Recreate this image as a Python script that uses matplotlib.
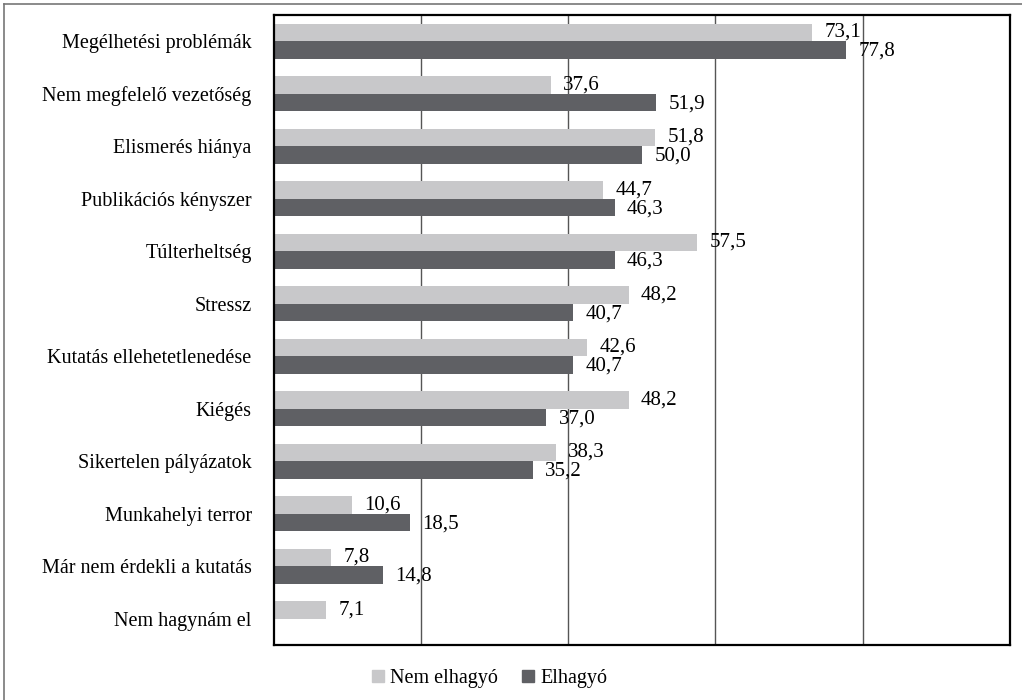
import matplotlib
matplotlib.use('Agg')
import matplotlib.pyplot as plt
import numpy as np
from matplotlib.lines import Line2D

plt.rcParams['font.family'] = ['Liberation Serif', 'DejaVu Serif']

categories = [
    'Megélhetési problémák',
    'Nem megfelelő vezetőség',
    'Elismerés hiánya',
    'Publikációs kényszer',
    'Túlterheltség',
    'Stressz',
    'Kutatás ellehetetlenedése',
    'Kiégés',
    'Sikertelen pályázatok',
    'Munkahelyi terror',
    'Már nem érdekli a kutatás',
    'Nem hagynám el',
]
nem_elhagyo = [73.1, 37.6, 51.8, 44.7, 57.5, 48.2, 42.6, 48.2, 38.3, 10.6, 7.8, 7.1]
elhagyo = [77.8, 51.9, 50.0, 46.3, 46.3, 40.7, 40.7, 37.0, 35.2, 18.5, 14.8, None]
series_names = ['Nem elhagyó', 'Elhagyó']

LIGHT = '#c8c8ca'
DARK = '#5f6064'

fig = plt.figure(figsize=(10.22, 7.0), dpi=100)
ax = fig.add_axes([0.268, 0.0786, 0.720, 0.900])

y = np.arange(len(categories))
h = 0.335

ax.barh(y - h / 2, nem_elhagyo, height=h, color=LIGHT, zorder=2)
dark_vals = [v if v is not None else 0 for v in elhagyo]
ax.barh(y + h / 2, dark_vals, height=h, color=DARK, zorder=2)


def fmt(v):
    return ('%.1f' % v).replace('.', ',')


for i, v in enumerate(nem_elhagyo):
    ax.text(v + 1.7, y[i] - h / 2, fmt(v), va='center', ha='left',
            fontsize=15, zorder=4)
for i, v in enumerate(elhagyo):
    if v is None:
        continue
    ax.text(v + 1.7, y[i] + h / 2 + 0.02, fmt(v), va='center', ha='left',
            fontsize=15, zorder=4)

ax.set_xlim(0, 100)
ax.set_ylim(len(categories) - 0.5, -0.5)
ax.set_xticks([20, 40, 60, 80])
ax.set_xticklabels([])
ax.tick_params(axis='x', length=0)
ax.grid(axis='x', color='#555555', linewidth=1.0, zorder=1)
ax.set_yticks(y)
ax.set_yticklabels(categories, fontsize=14.5)
ax.tick_params(axis='y', length=0, pad=16)
for s in ax.spines.values():
    s.set_color('black')
    s.set_linewidth(1.6)

handles = [
    Line2D([], [], marker='s', linestyle='none', markersize=9,
           markerfacecolor=LIGHT, markeredgecolor=LIGHT),
    Line2D([], [], marker='s', linestyle='none', markersize=9,
           markerfacecolor=DARK, markeredgecolor=DARK),
]
fig.legend(handles, series_names, loc='center', bbox_to_anchor=(0.478, 0.031),
           ncol=2, frameon=False, fontsize=14.5, handletextpad=0.2,
           handlelength=0.8, columnspacing=1.1)

# outer frame
fig.add_artist(Line2D([0.004, 0.004], [0.0, 0.995], transform=fig.transFigure,
                      color='#777777', linewidth=1.2))
fig.add_artist(Line2D([0.004, 1.0], [0.995, 0.995], transform=fig.transFigure,
                      color='#777777', linewidth=1.2))

fig.savefig('out.png', dpi=100)
